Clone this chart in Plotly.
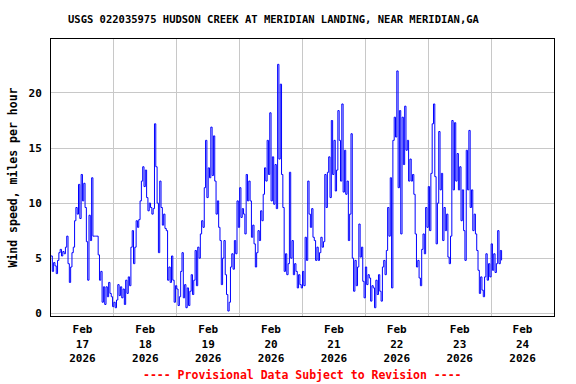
import pandas as pd
import plotly.graph_objects as go

# Wind speed (mph), 30-minute readings starting 2026-02-17 00:00
feb17 = [5.2, 3.8, 4.6, 4.3, 3.6, 4.8, 5.5, 5.8, 5.2, 5.6, 5.4, 6.0,
         7.0, 4.5, 2.8, 4.2, 5.5, 6.0, 8.4, 9.6, 9.0, 11.7, 8.6, 12.6,
         10.2, 11.8, 9.6, 6.5, 3.0, 8.9, 6.6, 12.3, 7.0, 7.0, 7.0, 7.0,
         5.3, 3.0, 3.8, 1.0, 2.4, 0.8, 2.4, 1.5, 2.8, 1.8, 1.5, 0.6]
feb18 = [1.0, 0.5, 1.2, 2.6, 1.6, 2.4, 1.4, 2.2, 0.8, 3.0, 1.8, 3.3,
         2.5, 6.0, 7.5, 4.5, 6.0, 8.4, 7.8, 8.5, 10.2, 12.0, 13.3, 11.5,
         13.0, 10.5, 9.3, 10.0, 9.6, 9.0, 9.5, 17.2, 13.3, 10.0, 5.5, 12.0,
         9.6, 8.0, 9.0, 7.7, 7.5, 3.0, 4.2, 2.8, 5.2, 3.0, 1.0, 2.5]
feb19 = [2.2, 0.7, 1.5, 3.8, 5.5, 1.4, 2.6, 0.5, 2.3, 0.7, 2.0, 3.5,
         1.7, 3.0, 5.7, 2.5, 6.0, 5.0, 7.2, 8.4, 7.8, 11.4, 15.7, 10.5,
         13.2, 12.3, 16.9, 12.5, 16.1, 12.0, 9.0, 10.2, 7.8, 6.6, 2.6, 5.0,
         6.6, 3.5, 1.7, 0.2, 1.0, 4.2, 5.4, 4.0, 6.6, 5.4, 10.2, 7.8]
feb20 = [11.4, 8.7, 9.5, 9.0, 7.2, 12.6, 10.2, 12.0, 10.2, 6.9, 8.0, 6.3,
         4.2, 5.5, 7.5, 6.6, 9.3, 8.4, 10.8, 13.2, 12.0, 15.7, 12.6, 18.2,
         10.2, 14.2, 9.9, 13.5, 9.5, 22.6, 14.0, 20.8, 12.6, 9.6, 3.8, 5.4,
         3.5, 4.5, 12.8, 5.0, 6.6, 3.5, 4.5, 3.8, 2.3, 3.5, 2.6, 2.3]
feb21 = [3.8, 2.5, 6.9, 4.8, 12.0, 9.0, 7.8, 9.5, 6.9, 6.6, 4.8, 6.0,
         4.8, 5.5, 6.9, 6.0, 6.5, 12.6, 9.6, 12.8, 14.2, 10.5, 17.5, 12.6,
         15.7, 11.1, 13.0, 18.4, 15.7, 12.0, 19.0, 11.0, 14.8, 10.8, 12.0, 6.6,
         9.0, 16.3, 5.0, 2.0, 4.8, 2.5, 4.2, 8.1, 5.1, 6.0, 2.9, 1.4]
feb22 = [4.2, 2.6, 3.5, 3.2, 1.1, 2.5, 2.3, 0.5, 3.0, 1.7, 3.5, 2.0,
         1.1, 4.2, 4.8, 3.5, 5.7, 9.6, 7.0, 12.3, 2.3, 15.7, 17.8, 16.0,
         22.0, 11.4, 18.4, 7.2, 17.8, 13.5, 18.8, 14.8, 15.7, 12.0, 14.0, 12.0,
         12.6, 10.8, 7.2, 4.2, 4.8, 3.2, 2.5, 5.8, 7.2, 5.4, 9.6, 7.8]
feb23 = [11.5, 7.5, 12.7, 17.2, 19.0, 12.4, 6.3, 10.0, 16.5, 11.2, 12.7, 6.6,
         9.6, 7.5, 9.0, 5.1, 4.5, 7.0, 17.5, 11.2, 17.3, 12.0, 14.5, 11.2,
         13.3, 8.4, 11.2, 7.5, 4.8, 14.8, 11.2, 16.6, 9.6, 11.2, 7.5, 9.0,
         7.2, 5.7, 3.9, 1.8, 3.3, 2.1, 1.5, 3.3, 5.4, 3.0, 4.5, 3.3]
feb24 = [6.3, 3.9, 5.4, 3.7, 4.5, 7.5, 4.5, 5.7, 4.8]

wind = feb17 + feb18 + feb19 + feb20 + feb21 + feb22 + feb23 + feb24
times = pd.date_range("2026-02-17 00:00", periods=len(wind), freq="30min")

day_labels = ["Feb<br>17<br>2026", "Feb<br>18<br>2026", "Feb<br>19<br>2026",
              "Feb<br>20<br>2026", "Feb<br>21<br>2026", "Feb<br>22<br>2026",
              "Feb<br>23<br>2026", "Feb<br>24<br>2026"]
label_pos = pd.date_range("2026-02-17 12:00", periods=8, freq="D")
y_ticks = [0, 5, 10, 15, 20]

FONT = "DejaVu Sans Mono"

fig = go.Figure()
fig.add_trace(go.Scatter(x=times, y=wind, mode="lines",
                         line=dict(color="#0000FF", width=1, shape="hv"),
                         hoverinfo="skip", showlegend=False))

fig.update_layout(
    width=576, height=384,
    margin=dict(l=51, r=22, t=39, b=68),
    paper_bgcolor="white", plot_bgcolor="white",
    font=dict(family=FONT, size=11, color="black", weight="bold"),
    xaxis=dict(
        range=["2026-02-17 00:00", "2026-02-25 00:00"],
        tickmode="array", tickvals=label_pos, ticktext=day_labels,
        showgrid=False, ticks="", ticklabelstandoff=3,
        tickfont=dict(family=FONT, size=11, color="black", weight="bold"),
        showline=True, linecolor="black", linewidth=1, mirror=True,
        minor=dict(tickmode="linear", tick0="2026-02-17", dtick=86400000,
                   showgrid=True, gridcolor="#c8c8c8", gridwidth=1, ticks=""),
        zeroline=False,
    ),
    yaxis=dict(
        range=[-0.25, 24.9],
        tickmode="array", tickvals=y_ticks,
        showgrid=True, gridcolor="#c8c8c8", gridwidth=1,
        zeroline=True, zerolinecolor="#c8c8c8", zerolinewidth=1,
        ticks="", ticklabelstandoff=6,
        tickfont=dict(family=FONT, size=11, color="black", weight="bold"),
        showline=True, linecolor="black", linewidth=1, mirror=True,
    ),
    annotations=[
        dict(text="USGS 022035975 HUDSON CREEK AT MERIDIAN LANDING, NEAR MERIDIAN,GA",
             xref="paper", yref="paper", x=(274 - 51) / 503, y=1, yshift=20,
             xanchor="center", yanchor="middle", showarrow=False,
             font=dict(family=FONT, size=10.5, color="black", weight="bold")),
        dict(text="Wind speed, miles per hour",
             xref="paper", yref="paper", x=0, xshift=-39, y=0.5,
             xanchor="center", yanchor="middle", textangle=-90, showarrow=False,
             font=dict(family=FONT, size=11.5, color="black", weight="bold")),
        dict(text="---- Provisional Data Subject to Revision ----",
             xref="paper", yref="paper", x=0.5, y=0, yshift=-59,
             xanchor="center", yanchor="middle", showarrow=False,
             font=dict(family=FONT, size=11.5, color="red", weight="bold")),
    ],
)

fig.write_html("out.html")
